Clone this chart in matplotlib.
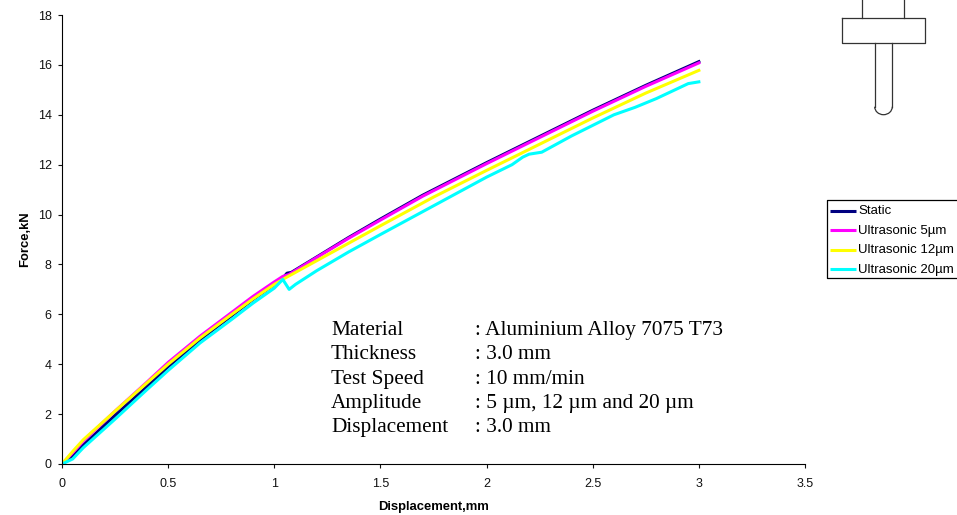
import matplotlib
matplotlib.use("Agg")
import matplotlib.pyplot as plt
from matplotlib.patches import Arc

W, H = 957, 515

# series (displacement mm, force kN)
static_x = [0, 0.05, 0.1, 0.25, 0.4, 0.5, 0.65, 0.8, 0.9, 1.0, 1.04, 1.06, 1.08, 1.2, 1.35, 1.5, 1.7, 2.0, 2.25, 2.5, 2.75, 3.0]
static_y = [0, 0.3, 0.75, 1.95, 3.1, 3.9, 4.98, 5.95, 6.6, 7.2, 7.45, 7.65, 7.68, 8.3, 9.08, 9.82, 10.78, 12.08, 13.13, 14.18, 15.18, 16.13]
us5_x = [0, 0.05, 0.1, 0.25, 0.4, 0.5, 0.65, 0.8, 0.9, 1.0, 1.04, 1.07, 1.2, 1.35, 1.5, 1.7, 2.0, 2.25, 2.5, 2.75, 3.0]
us5_y = [0, 0.45, 0.92, 2.12, 3.28, 4.07, 5.12, 6.08, 6.72, 7.3, 7.52, 7.6, 8.28, 9.05, 9.78, 10.74, 12.04, 13.09, 14.14, 15.14, 16.08]
us12_x = [0, 0.05, 0.1, 0.25, 0.4, 0.5, 0.65, 0.8, 0.9, 1.0, 1.05, 1.2, 1.35, 1.5, 1.75, 2.0, 2.25, 2.5, 2.75, 3.0]
us12_y = [0, 0.5, 0.97, 2.12, 3.25, 4.0, 5.05, 6.0, 6.62, 7.2, 7.45, 8.15, 8.85, 9.55, 10.7, 11.77, 12.82, 13.87, 14.87, 15.78]
us20_x = [0, 0.05, 0.1, 0.25, 0.4, 0.5, 0.65, 0.8, 0.9, 1.0, 1.04, 1.07, 1.1, 1.2, 1.35, 1.5, 1.75, 2.0, 2.12, 2.17, 2.2, 2.26, 2.4, 2.6, 2.7, 2.8, 2.9, 2.95, 3.0]
us20_y = [0, 0.2, 0.65, 1.8, 2.98, 3.75, 4.85, 5.8, 6.45, 7.05, 7.4, 7.0, 7.2, 7.75, 8.5, 9.2, 10.35, 11.5, 12.0, 12.3, 12.42, 12.5, 13.15, 14.0, 14.3, 14.65, 15.05, 15.25, 15.32]

series_names = ["Static", "Ultrasonic 5µm", "Ultrasonic 12µm", "Ultrasonic 20µm"]
series_colors = ["#000080", "#FF00FF", "#FFFF00", "#00FFFF"]

x_ticks = [0, 0.5, 1, 1.5, 2, 2.5, 3, 3.5]
x_labels = ["0", "0.5", "1", "1.5", "2", "2.5", "3", "3.5"]
y_ticks = [0, 2, 4, 6, 8, 10, 12, 14, 16, 18]

info_names = ["Material", "Thickness", "Test Speed", "Amplitude", "Displacement"]
info_values = [": Aluminium Alloy 7075 T73", ": 3.0 mm", ": 10 mm/min",
               ": 5 µm, 12 µm and 20 µm", ": 3.0 mm"]

plt.rcParams["font.family"] = ["Liberation Sans", "DejaVu Sans"]

fig = plt.figure(figsize=(W / 100, H / 100), dpi=100)
ax = fig.add_axes([62 / W, 1 - 464 / H, (805 - 62) / W, (464 - 15) / H])

for xs, ys, name, col in zip([static_x, us5_x, us12_x, us20_x],
                             [static_y, us5_y, us12_y, us20_y],
                             series_names, series_colors):
    ax.plot(xs, ys, color=col, lw=2.2, label=name, solid_joinstyle="round")

ax.set_xlim(0, 3.5)
ax.set_ylim(0, 18)
ax.set_xticks(x_ticks)
ax.set_xticklabels(x_labels)
ax.set_yticks(y_ticks)
ax.tick_params(axis="y", labelsize=9, length=3, width=0.8, pad=4.5, colors="#111111")
ax.tick_params(axis="x", labelsize=9, length=3, width=0.8, pad=7, colors="#111111")
ax.spines["top"].set_visible(False)
ax.spines["right"].set_visible(False)
ax.set_xlabel("Displacement,mm", fontsize=9.4, fontweight="bold", labelpad=8)
ax.set_ylabel("Force,kN", fontsize=9.4, fontweight="bold", labelpad=5)

# overlay in reference pixels, for the annotation block, key and punch sketch
ov = fig.add_axes([0, 0, 1, 1])
ov.set_xlim(0, W)
ov.set_ylim(H, 0)
ov.axis("off")
ov.patch.set_alpha(0)

for i, (n, v) in enumerate(zip(info_names, info_values)):
    yy = 335 + i * 24.3
    ov.text(331, yy, n, family="Liberation Serif", fontsize=15.3, va="baseline")
    ov.text(475, yy, v, family="Liberation Serif", fontsize=15.3, va="baseline")

# legend box runs off the right edge
ov.plot([957, 826.5, 826.5, 957], [200, 200, 278, 278], color="black", lw=0.9, clip_on=False)
for i, (name, col) in enumerate(zip(series_names, series_colors)):
    yy = 210.5 + i * 19.5
    ov.plot([830, 856], [yy, yy], color=col, lw=2.2, solid_capstyle="butt")
    ov.text(858.5, yy + 4, name, fontsize=9.5, va="baseline")

# punch sketch
sk = dict(color="#333333", lw=0.9)
ov.plot([862.3, 862.3], [0, 18], **sk)
ov.plot([904.3, 904.3], [0, 18], **sk)
ov.plot([841.7, 924.7, 924.7, 841.7, 841.7], [18, 18, 42.7, 42.7, 18], **sk)
ov.plot([874.7, 874.7], [42.7, 106.7], **sk)
ov.plot([892.3, 892.3], [42.7, 106.7], **sk)
ov.add_patch(Arc((883.5, 106.7), 17.6, 16, theta1=0, theta2=180, **sk))

fig.savefig("out.png", dpi=100)
